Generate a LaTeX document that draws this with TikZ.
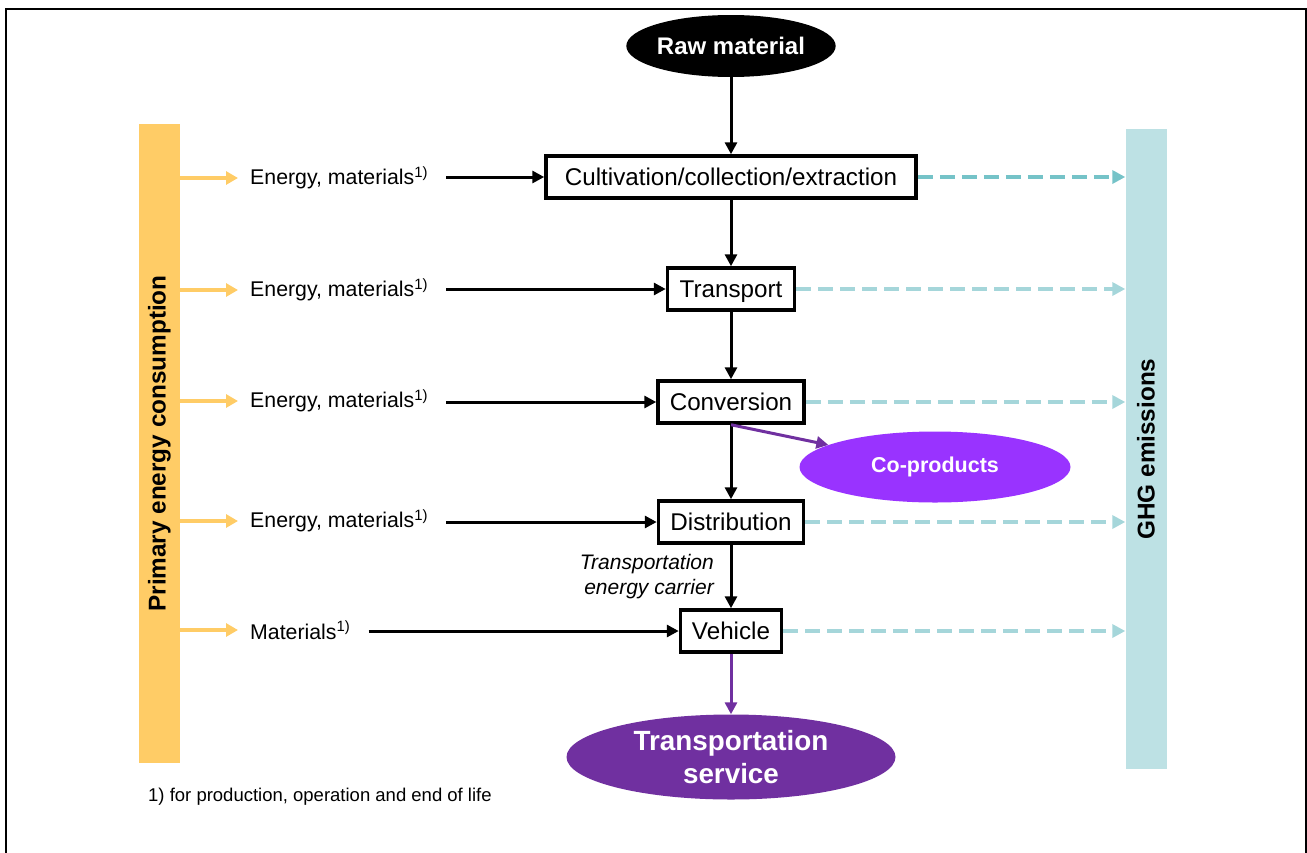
\documentclass[tikz,border=0pt]{standalone}
\usepackage{fontspec}
\setmainfont{Liberation Sans}
\usetikzlibrary{arrows.meta,shapes.geometric}

\definecolor{PecYellow}{HTML}{FFCC66}
\definecolor{GhgTeal}{HTML}{BDE1E4}
\definecolor{TealDark}{HTML}{75C3C8}
\definecolor{TealLight}{HTML}{A5D6DA}
\definecolor{CoPurple}{HTML}{9933FF}
\definecolor{DeepPurple}{HTML}{7030A0}

\begin{document}
\begin{tikzpicture}[x=1pt,y=-1pt]
  \tikzset{StepStyle/.style = {
    shape          = rectangle,
    draw           = black,
    fill           = white,
    line width     = 3.5pt,
    text           = black,
    inner sep      = 0pt,
    minimum height = 42pt,
    text height    = 17pt,
    text depth     = 0pt,
    font           = \fontsize{24.2}{28}\selectfont
    }
  }
  \tikzset{BarStyle/.style = {
    shape          = rectangle,
    inner sep      = 0pt,
    minimum width  = 41pt,
    text           = black,
    font           = \fontsize{24.3}{28}\selectfont\bfseries
    }
  }
  \tikzset{BlobStyle/.style = {
    shape          = ellipse,
    inner sep      = 0pt,
    text           = white,
    align          = center
    }
  }
  \tikzset{InputStyle/.style = {
    anchor         = west,
    inner sep      = 0pt,
    text           = black,
    font           = \fontsize{21.3}{24}\selectfont
    }
  }
  \tikzset{FlowStyle/.style = {
    draw           = black,
    line width     = 3pt,
    -{Triangle[length=12pt,width=12pt]}
    }
  }
  \tikzset{FeedStyle/.style = {
    FlowStyle,
    shorten <=     18pt
    }
  }
  \tikzset{SupplyStyle/.style = {
    draw           = PecYellow,
    line width     = 3.5pt,
    shorten >=     12pt,
    -{Triangle[length=12pt,width=13pt]}
    }
  }
  \tikzset{EmitStyle/.style = {
    line width     = 4pt,
    dash pattern   = on 15pt off 7pt,
    -{Triangle[length=13pt,width=13pt]}
    }
  }

  \useasboundingbox (0,0) rectangle (1307,852);
  \draw[line width=2.5pt] (6,870) -- (6,9) -- (1306,9) -- (1306,870);

  % side bars
  \node[BarStyle, fill=PecYellow, minimum height=639pt](pec) at (159.5,443.5) {\rotatebox{90}{Primary energy consumption}};
  \node[BarStyle, fill=GhgTeal, minimum height=640pt](ghg) at (1146,449) {\rotatebox{90}{GHG emissions}};

  % chain
  \node[BlobStyle, fill=black, minimum width=200pt, minimum height=62pt,
    font=\fontsize{24}{28}\selectfont\bfseries](raw) at (731,46) {Raw material};
  \node[StepStyle, minimum width=370pt](cult) at (731,177) {Cultivation/collection/extraction};
  \node[StepStyle, minimum width=127pt](trans) at (731,289) {Transport};
  \node[StepStyle, minimum width=146pt](conv) at (731,402) {Conversion};
  \node[StepStyle, minimum width=145pt](dist) at (731,522) {Distribution};
  \node[StepStyle, minimum width=101pt](veh) at (731,631) {Vehicle};
  \node[BlobStyle, fill=CoPurple, minimum width=271pt, minimum height=71pt,
    font=\fontsize{21.5}{26}\selectfont\bfseries](coprod) at (935,467) {Co-products};
  \node[BlobStyle, fill=DeepPurple, minimum width=329pt, minimum height=85pt,
    font=\fontsize{27.8}{33}\selectfont\bfseries](service) at (731,757) {Transportation\\service};

  % inputs
  \node[InputStyle](in1) at (250,178) {Energy, materials\textsuperscript{1)}};
  \node[InputStyle](in2) at (250,290) {Energy, materials\textsuperscript{1)}};
  \node[InputStyle](in3) at (250,401) {Energy, materials\textsuperscript{1)}};
  \node[InputStyle](in4) at (250,521) {Energy, materials\textsuperscript{1)}};
  \node[InputStyle](in5) at (250,630) {Materials\textsuperscript{1)}};

  \node[anchor=east, inner sep=0pt, align=right,
    font=\fontsize{21}{25}\selectfont\itshape](carrier) at (714,577) {Transportation\\energy carrier};
  \node[anchor=west, inner sep=0pt,
    font=\fontsize{18.5}{22}\selectfont](note) at (148,797) {1) for production, operation and end of life};

  % main flow
  \draw[FlowStyle](raw) -- (cult);
  \draw[FlowStyle](cult) -- (trans);
  \draw[FlowStyle](trans) -- (conv);
  \draw[FlowStyle](conv) -- (dist);
  \draw[FlowStyle](dist) -- (veh);
  \draw[FlowStyle, draw=DeepPurple](veh) -- (service);
  \draw[FlowStyle, draw=DeepPurple](conv.south) -- (coprod);

  % energy and materials
  \draw[SupplyStyle](pec.east |- in1.west) -- (in1.west);
  \draw[SupplyStyle](pec.east |- in2.west) -- (in2.west);
  \draw[SupplyStyle](pec.east |- in3.west) -- (in3.west);
  \draw[SupplyStyle](pec.east |- in4.west) -- (in4.west);
  \draw[SupplyStyle](pec.east |- in5.west) -- (in5.west);
  \draw[FeedStyle](in1.east |- cult.west) -- (cult.west);
  \draw[FeedStyle](in2.east |- trans.west) -- (trans.west);
  \draw[FeedStyle](in3.east |- conv.west) -- (conv.west);
  \draw[FeedStyle](in4.east |- dist.west) -- (dist.west);
  \draw[FeedStyle](in5.east |- veh.west) -- (veh.west);

  % emissions
  \draw[EmitStyle, draw=TealDark](cult.east) -- (cult.east -| ghg.west);
  \draw[EmitStyle, draw=TealLight](trans.east) -- (trans.east -| ghg.west);
  \draw[EmitStyle, draw=TealLight](conv.east) -- (conv.east -| ghg.west);
  \draw[EmitStyle, draw=TealLight](dist.east) -- (dist.east -| ghg.west);
  \draw[EmitStyle, draw=TealLight](veh.east) -- (veh.east -| ghg.west);

\end{tikzpicture}
\end{document}
